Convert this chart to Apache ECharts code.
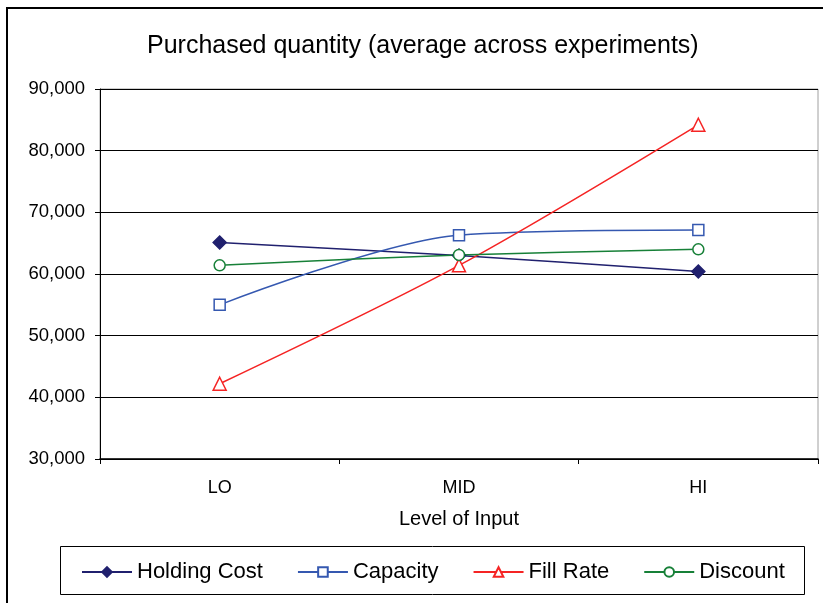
<!DOCTYPE html>
<html>
<head>
<meta charset="utf-8">
<script src="https://cdn.jsdelivr.net/npm/echarts@6/dist/echarts.min.js"></script>
<style>
  html, body { margin: 0; padding: 0; background: #fff; }
  #chart { width: 823px; height: 603px; }
</style>
</head>
<body>
<div id="chart"></div>
<script>
var levels = ['LO', 'MID', 'HI'];
var holdingCost = [65100, 63000, 60400];
var capacity = [55000, 66300, 67150];
var fillRate = [42200, 61400, 84200];
var discount = [61400, 63100, 64000];

var font = 'Liberation Sans, Arial, sans-serif';

function lineSeries(name, data, color, symbol, size, filled) {
  return {
    name: name,
    type: 'line',
    data: data,
    smooth: 0.3,
    symbol: symbol,
    symbolSize: size,
    showAllSymbol: true,
    lineStyle: { color: color, width: 1.5 },
    itemStyle: {
      color: filled ? color : '#fff',
      borderColor: color,
      borderWidth: 1.5
    }
  };
}

var chart = echarts.init(document.getElementById('chart'));
chart.setOption({
  animation: false,
  backgroundColor: '#fff',
  title: {
    text: 'Purchased quantity (average across experiments)',
    left: 142,
    top: 29,
    textStyle: { fontFamily: font, fontSize: 25, fontWeight: 'normal', color: '#000' }
  },
  grid: {
    left: 100, right: 5, top: 89, bottom: 144,
    show: true, borderColor: '#a0a0a0', borderWidth: 1
  },
  xAxis: {
    type: 'category',
    data: levels,
    boundaryGap: true,
    name: 'Level of Input',
    nameLocation: 'middle',
    nameGap: 50,
    nameTextStyle: { fontFamily: font, fontSize: 20, color: '#000' },
    axisLine: { lineStyle: { color: '#000', width: 1.5 } },
    axisTick: { show: true, length: 5, lineStyle: { color: '#000' } },
    axisLabel: { margin: 20, fontFamily: font, fontSize: 18, color: '#000' }
  },
  yAxis: {
    type: 'value',
    min: 30000,
    max: 90000,
    interval: 10000,
    axisLine: { show: true, lineStyle: { color: '#000', width: 1 } },
    axisTick: { show: true, inside: false, length: 5, lineStyle: { color: '#000' } },
    splitLine: { lineStyle: { color: '#000', width: 1 } },
    axisLabel: {
      margin: 15, fontFamily: font, fontSize: 18.5, color: '#000',
      formatter: function (v) { return v.toLocaleString('en-US'); }
    }
  },
  legend: {
    left: 76,
    top: 556,
    itemWidth: 50,
    itemHeight: 12,
    itemGap: 34,
    textStyle: { fontFamily: font, fontSize: 22, color: '#000' },
    data: ['Holding Cost', 'Capacity', 'Fill Rate', 'Discount']
  },
  graphic: [
    {
      type: 'rect',
      shape: { x: 7, y: 8, width: 900, height: 700 },
      style: { fill: null, stroke: '#000', lineWidth: 2 },
      silent: true
    },
    {
      type: 'rect',
      shape: { x: 60.5, y: 546.5, width: 744, height: 48 },
      style: { fill: null, stroke: '#000', lineWidth: 1 },
      silent: true
    }
  ],
  series: [
    lineSeries('Holding Cost', holdingCost, '#20206e', 'diamond', 13, true),
    lineSeries('Capacity', capacity, '#3558b0', 'rect', 11, false),
    lineSeries('Fill Rate', fillRate, '#f52424', 'triangle', 13, false),
    lineSeries('Discount', discount, '#178038', 'circle', 11, false)
  ]
});
</script>
</body>
</html>
